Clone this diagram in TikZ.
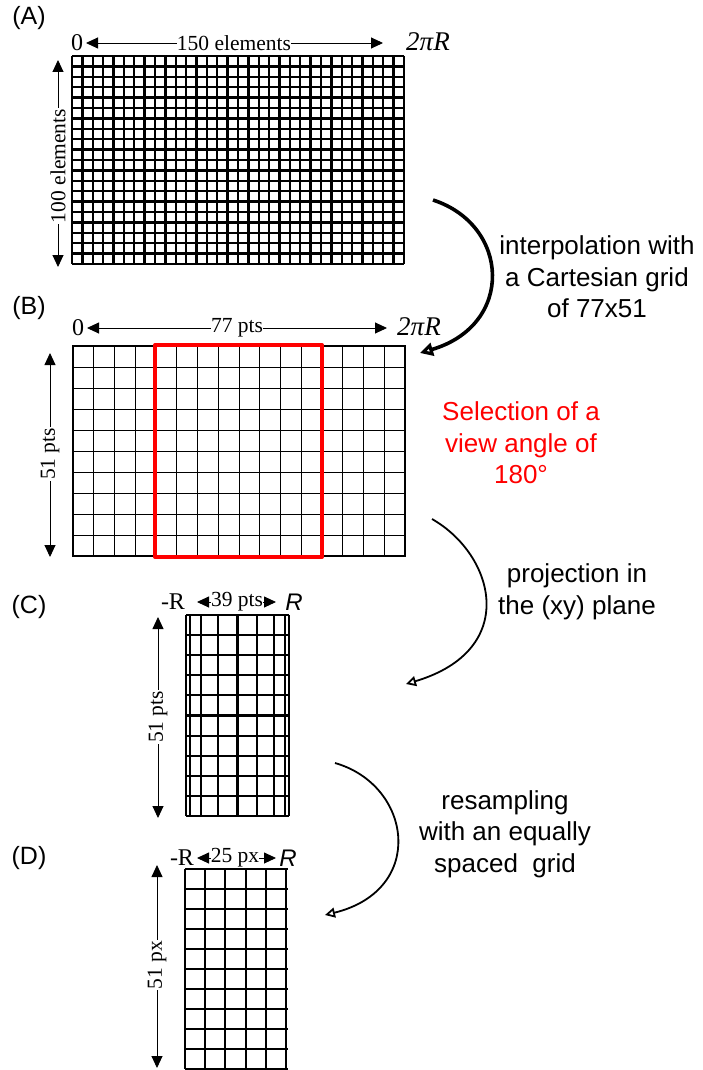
\documentclass[tikz,border=0pt]{standalone}
\usepackage{fontspec}
\setmainfont{Liberation Serif}
\newfontfamily\arialf{Liberation Sans}
\usetikzlibrary{arrows.meta}
\tikzset{
  dimarrow/.style={line width=0.9pt,-{Triangle[length=12pt,width=11pt]}},
  tnr/.style={font=\fontsize{21.5}{25}\selectfont,inner sep=0pt},
  tnrbig/.style={font=\fontsize{24}{28}\selectfont,inner sep=0pt},
  tnrv/.style={font=\fontsize{21.5}{25}\selectfont,inner sep=0pt,inner xsep=1pt,rotate=90},
  tnri/.style={font=\fontsize{27}{31}\selectfont\itshape,inner sep=0pt},
  sansi/.style={font=\fontsize{24}{28}\selectfont\arialf\itshape,inner sep=0pt},
  panel/.style={font=\fontsize{25}{29}\selectfont\arialf,inner sep=0pt},
  ann/.style={font=\fontsize{26}{31.5}\selectfont\arialf,align=center,inner sep=0pt},
  gA/.style={line width=2.3pt},
  gB/.style={line width=0.9pt},
  gBo/.style={line width=1.3pt},
  gC/.style={line width=2.1pt},
  selbox/.style={draw=red,line width=4pt,line join=round},
  bigcurve/.style={line width=3.6pt,-{Triangle[open,length=13pt,width=13pt]}},
  curve/.style={line width=1.8pt,-{Triangle[open,length=10pt,width=10pt]}},
}
\begin{document}
\begin{tikzpicture}[x=1pt,y=-1pt]
\useasboundingbox (0,0) rectangle (702,1070);

% ---------------- (A)
\node[panel] (pA) at (29,18) {(A)};
\foreach \i in {0,...,32} \draw[gA] ({72+\i*10.375},56) -- ++(0,208);
\foreach \j in {0,...,20} \draw[gA] (72,{56+\j*10.4}) -- ++(332,0);
\node[tnrbig] (a0) at (77,43) {0};
\node[tnr] (alab) at (234,43) {150 elements};
\node[tnri] (a2pi) at (428,42) {2πR};
\coordinate (aL) at (86,43);
\coordinate (aR) at (383,43);
\draw[dimarrow] (alab.west) -- (aL);
\draw[dimarrow] (alab.east) -- (aR);
\node[tnrv] (avlab) at (58,166) {100 elements};
\coordinate (avT) at (58,60);
\coordinate (avB) at (58,267);
\draw[dimarrow] (avlab.east) -- (avT);
\draw[dimarrow] (avlab.west) -- (avB);

% ---------------- (B)
\node[panel] (pB) at (29,308) {(B)};
\foreach \i in {1,...,15} \draw[gB] ({73+\i*20.75},346) -- ++(0,210);
\foreach \j in {1,...,9} \draw[gB] (73,{346+\j*21}) -- ++(332,0);
\draw[gBo] (73,346) rectangle (405,556);
\draw[selbox] (155,345) rectangle (322,557);
\node[tnrbig] (b0) at (78,328) {0};
\node[tnr] (blab) at (237,328) {77 pts};
\node[tnri] (b2pi) at (419,327) {2πR};
\coordinate (bL) at (87,328);
\coordinate (bR) at (387,328);
\draw[dimarrow] (blab.west) -- (bL);
\draw[dimarrow] (blab.east) -- (bR);
\node[tnrv] (bvlab) at (50,454) {51 pts};
\coordinate (bvT) at (50,353);
\coordinate (bvB) at (50,557);
\draw[dimarrow] (bvlab.east) -- (bvT);
\draw[dimarrow] (bvlab.west) -- (bvB);

% ---------------- (C)
\node[panel] (pC) at (29,607) {(C)};
\foreach \k in {0,...,8} \draw[gC] ({237.5-51.5*cos(\k*22.5)},615) -- ++(0,201);
\foreach \j in {0,...,10} \draw[gC] (186,{615+\j*20.1}) -- ++(103,0);
\node[tnrbig] (cmR) at (173,602) {-R};
\node[tnr] (clab) at (237,602) {39 pts};
\node[sansi] (cR) at (294,602) {R};
\coordinate (cL) at (197,602);
\coordinate (cRt) at (276,602);
\draw[dimarrow] (clab.west) -- (cL);
\draw[dimarrow] (clab.east) -- (cRt);
\node[tnrv] (cvlab) at (158,717) {51 pts};
\coordinate (cvT) at (158,617);
\coordinate (cvB) at (158,818);
\draw[dimarrow] (cvlab.east) -- (cvT);
\draw[dimarrow] (cvlab.west) -- (cvB);

% ---------------- (D)
\node[panel] (pD) at (29,858) {(D)};
\foreach \i in {0,...,5} \draw[gC] ({185+\i*20.2},869) -- ++(0,200);
\foreach \j in {0,...,10} \draw[gC] (185,{869+\j*20}) -- ++(103,0);
\node[tnrbig] (dmR) at (182,858) {-R};
\node[tnr] (dlab) at (235,858) {25 px};
\node[sansi] (dR) at (288,858) {R};
\coordinate (dL) at (197,858);
\coordinate (dRt) at (276,858);
\draw[dimarrow] (dlab.west) -- (dL);
\draw[dimarrow] (dlab.east) -- (dRt);
\node[tnrv] (dvlab) at (157,965) {51 px};
\coordinate (dvT) at (157,865);
\coordinate (dvB) at (157,1068);
\draw[dimarrow] (dvlab.east) -- (dvT);
\draw[dimarrow] (dvlab.west) -- (dvB);

% ---------------- annotations
\node[ann] (t1) at (597,277) {interpolation with\\a Cartesian grid\\of 77x51};
\node[ann,text=red] (t2) at (521,443) {Selection of a\\view angle of\\180°};
\node[ann] (t3) at (577,592) {projection in\\the (xy) plane};
\node[ann] (t4) at (505,834) {resampling\\with an equally\\spaced\ \ grid};

\coordinate (s1) at (433,200);
\coordinate (e1) at (420,353);
\draw[bigcurve] (s1) .. controls (510,225) and (515,325) .. (e1);
\coordinate (s2) at (432,519);
\coordinate (e2) at (406,684);
\draw[curve] (s2) .. controls (495,555) and (520,650) .. (e2);
\coordinate (s3) at (335,763);
\coordinate (e3) at (325,915);
\draw[curve] (s3) .. controls (412,785) and (427,890) .. (e3);
\end{tikzpicture}
\end{document}
